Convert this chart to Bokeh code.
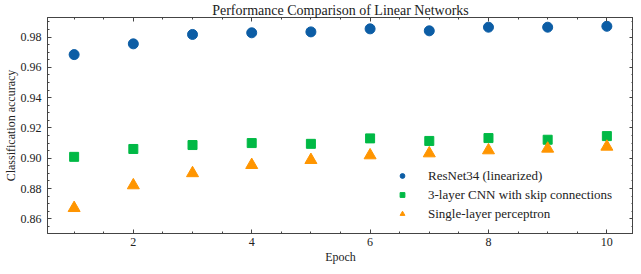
from bokeh.plotting import figure
from bokeh.models import (Range1d, LinearAxis, Legend, LegendItem, SingleIntervalTicker,
                          NumeralTickFormatter, CustomJSTickFormatter)
from bokeh.embed import file_html
from bokeh.resources import INLINE

epochs = [1, 2, 3, 4, 5, 6, 7, 8, 9, 10]
resnet = [0.9684, 0.9755, 0.9817, 0.9828, 0.9834, 0.9854, 0.9841, 0.9865, 0.9865, 0.9871]
cnn = [0.9009, 0.9061, 0.9087, 0.9100, 0.9095, 0.9131, 0.9114, 0.9133, 0.9122, 0.9146]
perceptron = [0.8671, 0.8821, 0.8901, 0.8955, 0.8988, 0.9019, 0.9032, 0.9052, 0.9063, 0.9076]
labels = ["ResNet34 (linearized)", "3-layer CNN with skip connections", "Single-layer perceptron"]
title = "Performance Comparison of Linear Networks"

FONT = "Liberation Serif"
TXT = "#222222"

p = figure(width=633, height=266, output_backend="svg", toolbar_location=None,
           x_range=Range1d(0.55, 10.45), y_range=Range1d(0.8503, 0.9929),
           min_border=0, min_border_left=0, min_border_right=0, min_border_top=0, min_border_bottom=0,
           title=title)
p.title.text_font = FONT
p.title.text_font_size = "14px"
p.title.text_font_style = "normal"
p.title.align = "center"
p.title.text_color = TXT
p.title.standoff = 0
p.title.text_line_height = 0.8
p.grid.visible = False
p.outline_line_color = "#444444"
p.background_fill_color = "white"

r1 = p.scatter(epochs, resnet, marker="circle", size=10, color="#0C5DA5")
r2 = p.scatter(epochs, cnn, marker="square", size=9, color="#00B945")
r3 = p.scatter(epochs, perceptron, marker="triangle", size=12, color="#FF9500")

def style(ax):
    ax.axis_line_color = "#444444"
    ax.major_tick_line_color = "#444444"
    ax.minor_tick_line_color = "#444444"
    ax.major_tick_in = 4
    ax.major_tick_out = 0
    ax.minor_tick_in = 2
    ax.minor_tick_out = 0
    ax.major_label_text_font = FONT
    ax.major_label_text_font_size = "12px"
    ax.major_label_text_color = TXT
    ax.axis_label_text_font = FONT
    ax.axis_label_text_font_size = "12px"
    ax.axis_label_text_font_style = "normal"
    ax.axis_label_text_color = TXT

p.xaxis.ticker = SingleIntervalTicker(interval=2, num_minor_ticks=4)
p.yaxis.ticker = SingleIntervalTicker(interval=0.02, num_minor_ticks=4)
p.yaxis.formatter = NumeralTickFormatter(format="0.00")
p.xaxis.axis_label = "Epoch"
p.yaxis.axis_label = "Classification accuracy"
style(p.xaxis[0])
style(p.yaxis[0])
p.xaxis.major_label_standoff = 4
p.yaxis.major_label_standoff = 6
p.xaxis.axis_label_standoff = 1
p.yaxis.axis_label_standoff = 0
p.xaxis.major_label_text_line_height = 0.8
p.xaxis.axis_label_text_line_height = 0.8

blank = CustomJSTickFormatter(code="return ''")
top = LinearAxis(ticker=SingleIntervalTicker(interval=2, num_minor_ticks=4), formatter=blank)
right = LinearAxis(ticker=SingleIntervalTicker(interval=0.02, num_minor_ticks=4), formatter=blank)
for ax in (top, right):
    style(ax)
    ax.major_label_standoff = 0
    ax.axis_label_standoff = 0
p.add_layout(top, "above")
p.add_layout(right, "right")

legend = Legend(items=[LegendItem(label=labels[0], renderers=[r1]),
                       LegendItem(label=labels[1], renderers=[r2]),
                       LegendItem(label=labels[2], renderers=[r3])],
                location=(349, 10))
legend.label_text_font = FONT
legend.label_text_font_size = "13px"
legend.label_text_color = TXT
legend.border_line_alpha = 0
legend.background_fill_alpha = 0
legend.padding = 0
legend.margin = 0
legend.spacing = 0
legend.glyph_width = 12
legend.glyph_height = 19
legend.label_height = 19
legend.label_standoff = 20
p.add_layout(legend, "center")

open("out.html", "w").write(file_html(p, INLINE))
